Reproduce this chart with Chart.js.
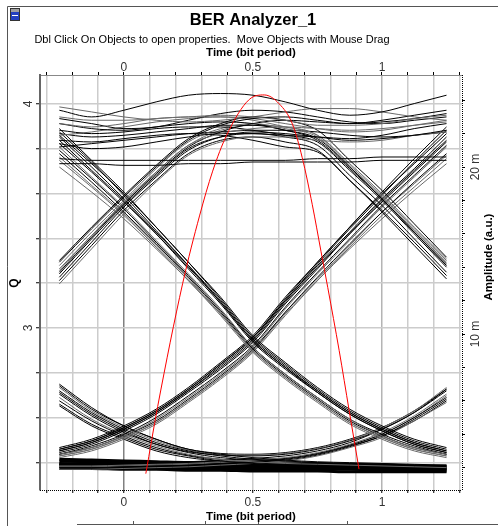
<!DOCTYPE html>
<html>
<head>
<meta charset="utf-8">
<script src="https://cdn.jsdelivr.net/npm/chart.js@4"></script>
<style>
  html, body { margin: 0; padding: 0; background: #fff; overflow: hidden; }
  #wrap { position: relative; width: 498px; height: 526px; }
</style>
</head>
<body>
<div id="wrap"><canvas id="berChart" width="498" height="526"></canvas></div>
<script>
// sample times of every eye trace (bit period)
const bitTime = [-0.25, -0.125, 0, 0.125, 0.25, 0.375, 0.5, 0.625, 0.75, 0.875, 1, 1.125, 1.25];

// eye traces, amplitude in m (a.u.) read at each bitTime
const onesTraces = [
  [23.4, 23.0, 23.4, 23.9, 24.3, 24.4, 24.3, 23.9, 23.4, 23.1, 23.3, 23.8, 24.3],
  [22.6, 22.4, 22.6, 22.9, 23.0, 23.1, 23.0, 22.8, 22.5, 22.5, 22.6, 22.9, 23.1],
  [20.5, 20.4, 20.4, 20.4, 20.4, 20.4, 20.4, 20.4, 20.5, 20.5, 20.6, 20.6, 20.6],
  [20.2, 20.2, 20.1, 20.1, 20.2, 20.2, 20.3, 20.3, 20.3, 20.3, 20.4, 20.4, 20.4],
  [13.9, 15.9, 17.9, 19.7, 21.3, 22.0, 22.3, 22.4, 22.3, 22.2, 22.3, 22.5, 22.7],
  [13.4, 15.5, 17.6, 19.4, 21.0, 21.8, 22.1, 22.0, 21.8, 21.6, 21.7, 21.9, 22.2],
  [14.3, 16.3, 18.2, 20.0, 21.6, 22.5, 22.9, 23.0, 22.8, 22.6, 22.7, 22.9, 23.2],
  [13.0, 15.1, 17.2, 19.1, 20.7, 21.5, 21.8, 21.8, 21.6, 21.5, 21.6, 21.9, 22.1],
  [22.2, 22.0, 22.1, 22.3, 22.4, 22.4, 22.2, 21.9, 21.5, 19.8, 18.0, 16.0, 14.0],
  [21.6, 21.5, 21.7, 21.9, 22.0, 21.9, 21.6, 21.2, 20.9, 19.2, 17.4, 15.5, 13.5],
  [23.0, 22.8, 22.8, 22.9, 23.0, 23.0, 22.8, 22.4, 21.9, 20.2, 18.4, 16.4, 14.5],
  [22.6, 22.3, 22.2, 22.4, 22.6, 22.7, 22.6, 22.2, 21.7, 20.0, 18.1, 16.1, 14.2],
  [13.6, 15.7, 17.7, 19.5, 21.1, 21.8, 22.0, 21.8, 21.3, 19.5, 17.7, 15.7, 13.7],
  [14.1, 16.1, 18.0, 19.9, 21.5, 22.3, 22.6, 22.3, 21.8, 20.0, 18.2, 16.2, 14.3],
  [13.2, 15.3, 17.4, 19.2, 20.8, 21.6, 21.8, 21.5, 21.0, 19.2, 17.3, 15.3, 13.3],
  [14.4, 16.4, 18.3, 20.1, 21.7, 22.6, 23.0, 22.8, 22.2, 20.4, 18.6, 16.6, 14.6],
  [23.6, 23.3, 23.0, 22.8, 22.7, 22.8, 23.0, 23.3, 23.5, 23.5, 23.3, 23.0, 22.8],
  [21.2, 21.4, 21.6, 21.8, 22.0, 22.1, 22.2, 22.2, 22.1, 21.9, 21.8, 21.9, 22.1],
  [22.9, 22.6, 22.3, 22.4, 22.8, 23.2, 23.4, 23.3, 23.0, 22.7, 22.6, 22.8, 23.0],
  [21.9, 22.1, 22.4, 22.7, 22.9, 23.0, 22.9, 22.6, 22.3, 22.1, 22.2, 22.5, 22.8],
  [13.7, 15.8, 17.8, 19.6, 21.2, 22.1, 22.6, 22.8, 22.7, 22.6, 22.8, 23.1, 23.4],
  [22.0, 21.8, 21.9, 22.1, 22.3, 22.5, 22.5, 22.2, 21.6, 19.9, 18.1, 16.1, 14.1],
  [13.8, 15.9, 17.8, 19.7, 21.3, 22.2, 22.5, 22.4, 21.9, 20.1, 18.3, 16.3, 14.4],
  [21.4, 21.1, 21.2, 21.5, 21.8, 22.0, 22.0, 21.9, 21.8, 21.7, 21.9, 22.3, 22.6]
];
const fallTraces = [
  [21.6, 19.8, 18.0, 16.0, 14.0, 11.9, 9.6, 8.0, 6.6, 5.3, 4.3, 3.5, 3.0],
  [21.2, 19.4, 17.6, 15.6, 13.6, 11.5, 9.2, 7.6, 6.2, 4.9, 3.9, 3.2, 2.8],
  [20.8, 19.1, 17.3, 15.4, 13.4, 11.3, 9.1, 7.5, 6.1, 4.8, 3.9, 3.2, 2.8],
  [21.9, 20.2, 18.4, 16.4, 14.3, 12.2, 9.9, 8.3, 6.8, 5.5, 4.5, 3.7, 3.2],
  [20.4, 18.8, 17.1, 15.2, 13.2, 11.2, 9.0, 7.4, 6.0, 4.7, 3.8, 3.1, 2.7],
  [21.4, 19.7, 17.9, 16.0, 13.9, 11.8, 9.5, 7.9, 6.5, 5.2, 4.2, 3.4, 2.9],
  [22.3, 20.4, 18.5, 16.4, 14.3, 12.1, 9.8, 8.2, 6.7, 5.4, 4.4, 3.6, 3.1],
  [20.0, 18.5, 16.9, 15.1, 13.2, 11.1, 8.9, 7.3, 5.9, 4.6, 3.7, 3.0, 2.6],
  [21.0, 19.3, 17.5, 15.5, 13.5, 11.4, 9.2, 7.6, 6.2, 4.9, 4.0, 3.3, 2.8],
  [21.8, 20.0, 18.1, 16.1, 14.1, 12.0, 9.7, 8.1, 6.6, 5.3, 4.3, 3.5, 3.0],
  [20.6, 18.9, 17.2, 15.3, 13.3, 11.2, 9.0, 7.4, 6.0, 4.7, 3.8, 3.1, 2.7],
  [22.1, 20.3, 18.3, 16.2, 14.1, 11.9, 9.6, 8.0, 6.5, 5.2, 4.2, 3.4, 2.9]
];
const riseTraces = [
  [3.0, 3.5, 4.3, 5.3, 6.6, 8.0, 9.6, 11.9, 14.0, 16.0, 18.0, 19.8, 21.6],
  [2.8, 3.2, 3.9, 4.9, 6.2, 7.6, 9.2, 11.5, 13.6, 15.6, 17.6, 19.4, 21.2],
  [2.8, 3.2, 3.9, 4.8, 6.1, 7.5, 9.1, 11.3, 13.4, 15.4, 17.3, 19.1, 20.8],
  [3.2, 3.7, 4.5, 5.5, 6.8, 8.3, 9.9, 12.2, 14.3, 16.4, 18.4, 20.2, 22.0],
  [2.7, 3.1, 3.8, 4.7, 6.0, 7.4, 9.0, 11.2, 13.2, 15.2, 17.1, 18.8, 20.5],
  [2.9, 3.4, 4.2, 5.2, 6.5, 7.9, 9.5, 11.8, 13.9, 16.0, 17.9, 19.7, 21.5],
  [3.1, 3.6, 4.4, 5.4, 6.7, 8.2, 9.8, 12.1, 14.3, 16.4, 18.5, 20.5, 22.4],
  [2.6, 3.0, 3.7, 4.6, 5.9, 7.3, 8.9, 11.1, 13.2, 15.1, 16.9, 18.6, 20.2],
  [2.8, 3.3, 4.0, 5.0, 6.3, 7.7, 9.3, 11.6, 13.7, 15.7, 17.7, 19.5, 21.3],
  [3.0, 3.5, 4.3, 5.3, 6.6, 8.1, 9.7, 12.0, 14.1, 16.1, 18.1, 19.9, 21.8],
  [2.7, 3.1, 3.8, 4.7, 6.0, 7.4, 9.0, 11.3, 13.3, 15.3, 17.3, 19.0, 20.7],
  [3.1, 3.6, 4.4, 5.4, 6.7, 8.2, 9.8, 12.0, 14.2, 16.3, 18.3, 20.3, 22.2]
];
const zeroTraces = [
  [2.4, 2.35, 2.3, 2.3, 2.25, 2.25, 2.2, 2.2, 2.2, 2.15, 2.15, 2.1, 2.1],
  [2.1, 2.1, 2.05, 2.0, 2.0, 1.95, 1.95, 1.9, 1.9, 1.9, 1.85, 1.85, 1.8],
  [2.25, 2.2, 2.15, 2.1, 2.1, 2.05, 2.05, 2.0, 2.0, 1.95, 1.95, 1.95, 1.9],
  [1.95, 1.95, 1.9, 1.9, 1.85, 1.85, 1.8, 1.8, 1.8, 1.75, 1.75, 1.75, 1.75],
  [2.5, 2.45, 2.4, 2.35, 2.3, 2.3, 2.25, 2.2, 2.2, 2.15, 2.1, 2.05, 2.0],
  [2.2, 2.25, 2.2, 2.15, 2.2, 2.15, 2.1, 2.1, 2.05, 2.05, 2.0, 1.95, 1.95]
];
const zeroEdgeTraces = [
  [6.6, 5.3, 4.3, 3.5, 3.0, 2.7, 2.5, 2.4, 2.3, 2.25, 2.2, 2.15, 2.1],
  [6.2, 4.9, 4.0, 3.3, 2.8, 2.5, 2.35, 2.25, 2.2, 2.15, 2.1, 2.05, 2.0],
  [7.0, 5.6, 4.5, 3.7, 3.1, 2.8, 2.6, 2.45, 2.35, 2.3, 2.25, 2.2, 2.15],
  [5.8, 4.6, 3.8, 3.1, 2.7, 2.4, 2.25, 2.15, 2.1, 2.05, 2.0, 1.95, 1.9],
  [2.1, 2.1, 2.15, 2.2, 2.25, 2.35, 2.45, 2.6, 2.9, 3.4, 4.1, 5.1, 6.4],
  [2.0, 2.0, 2.05, 2.1, 2.15, 2.25, 2.35, 2.5, 2.8, 3.3, 3.9, 4.9, 6.1],
  [2.2, 2.2, 2.25, 2.3, 2.35, 2.45, 2.55, 2.7, 3.0, 3.5, 4.3, 5.3, 6.7],
  [1.9, 1.9, 1.95, 2.0, 2.05, 2.15, 2.25, 2.4, 2.7, 3.2, 3.8, 4.8, 5.9],
  [6.5, 5.2, 4.2, 3.4, 2.95, 2.75, 2.7, 2.8, 3.1, 3.6, 4.3, 5.3, 6.6],
  [6.0, 4.8, 3.9, 3.2, 2.75, 2.5, 2.45, 2.55, 2.85, 3.35, 4.0, 5.0, 6.2],
  [6.8, 5.4, 4.4, 3.6, 3.05, 2.8, 2.75, 2.85, 3.15, 3.65, 4.4, 5.4, 6.8],
  [5.7, 4.5, 3.7, 3.0, 2.6, 2.4, 2.35, 2.45, 2.75, 3.25, 3.9, 4.8, 6.0],
  [6.4, 5.1, 4.1, 3.4, 2.9, 2.6, 2.45, 2.35, 2.3, 2.25, 2.2, 2.15, 2.1],
  [2.05, 2.05, 2.1, 2.15, 2.2, 2.3, 2.4, 2.55, 2.85, 3.35, 4.0, 5.0, 6.3],
  [6.9, 5.5, 4.5, 3.7, 3.1, 2.85, 2.8, 2.9, 3.2, 3.7, 4.4, 5.4, 6.7]
];

// Q factor curve
const qTime = [0.085, 0.131, 0.228, 0.293, 0.344, 0.398, 0.486, 0.544, 0.602, 0.653, 0.691, 0.730, 0.764, 0.790, 0.834, 0.873, 0.911];
const qValue = [2.35, 2.65, 3.2, 3.5, 3.7, 3.86, 4.02, 4.04, 4.0, 3.91, 3.76, 3.55, 3.34, 3.18, 2.9, 2.63, 2.37];

// axis ticks
const timeTicks = [-0.3, -0.2, -0.1, 0, 0.1, 0.2, 0.3, 0.4, 0.5, 0.6, 0.7, 0.8, 0.9, 1, 1.1, 1.2, 1.3];
const timeLabels = [0, 0.5, 1];
const qTicks = [2.4, 2.6, 2.8, 3, 3.2, 3.4, 3.6, 3.8, 4];
const qLabels = [3, 4];
const ampTicks = [2, 4, 6, 8, 10, 12, 14, 16, 18, 20, 22, 24];
const ampLabels = [10, 20];

Chart.defaults.font.family = '"Liberation Sans", Arial, sans-serif';

const toPoints = trace => trace.map((a, j) => ({ x: bitTime[j], y: a }));

const datasets = [{
  data: qTime.map((t, i) => ({ x: t, y: qValue[i] })),
  yAxisID: 'y',
  borderColor: '#ff0000',
  borderWidth: 1,
  pointRadius: 0,
  cubicInterpolationMode: 'monotone'
}];

const eyeTraces = [...onesTraces, ...fallTraces, ...riseTraces, ...zeroEdgeTraces];
eyeTraces.forEach((trace, i) => {
  datasets.push({
    data: toPoints(trace),
    yAxisID: 'y2',
    borderColor: i % 3 === 1 ? '#6a6a6a' : '#000000',
    borderWidth: 1,
    pointRadius: 0,
    cubicInterpolationMode: 'monotone'
  });
});
zeroTraces.forEach(trace => {
  datasets.push({
    data: toPoints(trace),
    yAxisID: 'y2',
    borderColor: '#000000',
    borderWidth: 3,
    pointRadius: 0,
    cubicInterpolationMode: 'monotone'
  });
});

function rotText(ctx, text, x, y) {
  ctx.save();
  ctx.translate(x, y);
  ctx.rotate(-Math.PI / 2);
  ctx.fillText(text, 0, 0);
  ctx.restore();
}

const frameText = {
  id: 'frameText',
  beforeDraw(chart) {
    const ctx = chart.ctx;
    ctx.save();
    ctx.fillStyle = '#fff';
    ctx.fillRect(0, 0, chart.width, chart.height);
    ctx.strokeStyle = '#555';
    ctx.lineWidth = 1;
    ctx.beginPath();
    ctx.moveTo(7.5, 526); ctx.lineTo(7.5, 6.5); ctx.lineTo(498, 6.5);
    ctx.moveTo(77, 524.5); ctx.lineTo(498, 524.5);
    [133, 205, 258, 347].forEach(x => { ctx.moveTo(x + 0.5, 521); ctx.lineTo(x + 0.5, 525); });
    ctx.stroke();
    // window icon
    ctx.fillStyle = '#a0a0a0'; ctx.fillRect(11, 9, 8, 3);
    ctx.fillStyle = '#2340c0'; ctx.fillRect(11, 12, 8, 8);
    ctx.fillStyle = '#fff'; ctx.fillRect(12, 15, 6, 1);
    ctx.strokeStyle = '#333'; ctx.strokeRect(10.5, 8.5, 9, 12);
    ctx.restore();
  },
  afterDraw(chart) {
    const { ctx, scales, chartArea: area } = chart;
    ctx.save();
    // dotted bottom and right frame of the plot
    ctx.strokeStyle = '#000';
    ctx.lineWidth = 1;
    ctx.setLineDash([1, 1]);
    ctx.beginPath();
    ctx.moveTo(area.left, area.bottom + 0.5); ctx.lineTo(area.right, area.bottom + 0.5);
    ctx.moveTo(area.right + 0.5, area.top); ctx.lineTo(area.right + 0.5, area.bottom);
    ctx.stroke();
    ctx.setLineDash([]);

    ctx.textAlign = 'center';
    ctx.textBaseline = 'middle';
    ctx.fillStyle = '#000';
    ctx.font = 'bold 16.5px "Liberation Sans", Arial, sans-serif';
    ctx.fillText('BER Analyzer_1', 253, 20);
    ctx.font = '11px "Liberation Sans", Arial, sans-serif';
    ctx.fillText('Dbl Click On Objects to open properties.  Move Objects with Mouse Drag', 212, 40);
    ctx.font = 'bold 12px "Liberation Sans", Arial, sans-serif';
    rotText(ctx, 'Q', 15, 283);
    ctx.font = 'bold 11.5px "Liberation Sans", Arial, sans-serif';
    rotText(ctx, 'Amplitude (a.u.)', 489, 257);
    ctx.fillStyle = '#333';
    ctx.font = '12px "Liberation Sans", Arial, sans-serif';
    qLabels.forEach(v => rotText(ctx, String(v), 29, scales.y.getPixelForValue(v)));
    ampLabels.forEach(v => rotText(ctx, v + ' m', 476, scales.y2.getPixelForValue(v)));
    ctx.restore();
  }
};

const timeGrid = c => {
  const v = c.tick ? c.tick.value : null;
  if (v === 0) return '#808080';
  if (v === 1) return '#b4b4b4';
  return '#cccccc';
};
const timeCallback = v => timeLabels.includes(v) ? String(v) : '';

new Chart(document.getElementById('berChart'), {
  type: 'line',
  data: { datasets },
  options: {
    responsive: false,
    animation: false,
    layout: { padding: 0 },
    plugins: { legend: { display: false }, tooltip: { enabled: false } },
    scales: {
      x: {
        type: 'linear', position: 'bottom', min: -0.325, max: 1.31,
        afterBuildTicks: s => { s.ticks = timeTicks.map(v => ({ value: v })); },
        afterFit: s => { s.height = 36; },
        ticks: { callback: timeCallback, color: '#333', font: { size: 12 }, padding: 2.8, autoSkip: false, maxRotation: 0 },
        grid: { color: timeGrid, lineWidth: 1.5, tickColor: '#000', tickWidth: 1, tickLength: 3 },
        border: { display: false },
        title: { display: true, text: 'Time (bit period)', color: '#000', font: { size: 11.5, weight: 'bold' }, padding: { top: 0, bottom: 2 } }
      },
      x2: {
        type: 'linear', position: 'top', min: -0.325, max: 1.31,
        afterBuildTicks: s => { s.ticks = timeTicks.map(v => ({ value: v })); },
        afterFit: s => { s.height = 75; },
        ticks: { callback: timeCallback, color: '#333', font: { size: 12 }, padding: -2.7, autoSkip: false, maxRotation: 0 },
        grid: { drawOnChartArea: false, tickColor: '#000', tickLength: 3 },
        border: { color: '#888' },
        title: { display: true, text: 'Time (bit period)', color: '#000', font: { size: 11.5, weight: 'bold' }, padding: { top: 46, bottom: 0 } }
      },
      y: {
        type: 'linear', position: 'left', min: 2.277, max: 4.129,
        afterBuildTicks: s => { s.ticks = qTicks.map(v => ({ value: v })); },
        afterFit: s => { s.width = 40; },
        ticks: { display: false },
        grid: { color: '#cccccc', lineWidth: 1.5, tickColor: '#000', tickWidth: 1, tickLength: 4 },
        border: { color: '#666', width: 2 }
      },
      y2: {
        type: 'linear', position: 'right', min: 0.66, max: 25.51,
        afterBuildTicks: s => { s.ticks = ampTicks.map(v => ({ value: v })); },
        afterFit: s => { s.width = 36; },
        ticks: { display: false },
        grid: { drawOnChartArea: false, tickColor: '#000', tickLength: 3 },
        border: { display: false }
      }
    }
  },
  plugins: [frameText]
});
</script>
</body>
</html>
